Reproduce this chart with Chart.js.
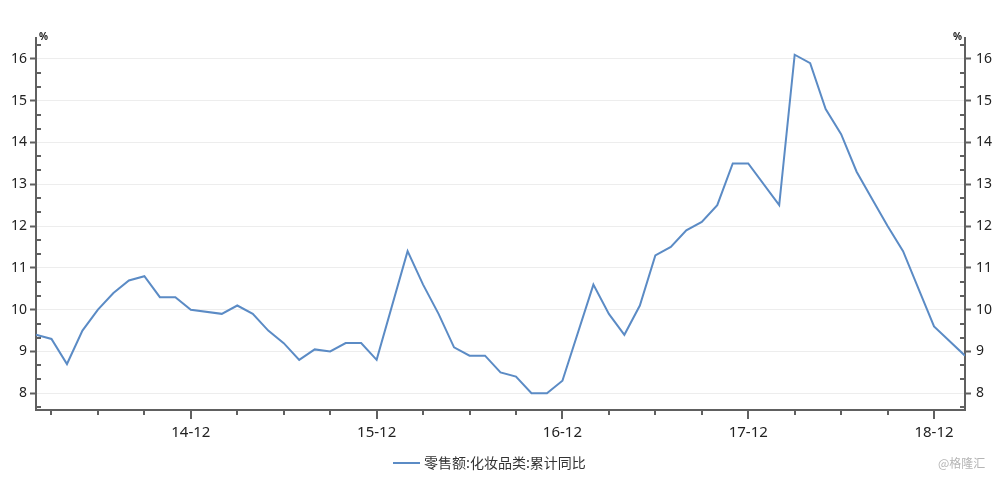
<!DOCTYPE html>
<html>
<head>
<meta charset="utf-8">
<script src="https://cdn.jsdelivr.net/npm/chart.js@4/dist/chart.umd.min.js"></script>
<style>
    html, body { margin: 0; padding: 0; background: #fff; }
    #wrap { position: relative; width: 1000px; height: 480px; }
    #legenda { position: absolute; left: 393px; top: 452px; font: 14px "Noto Sans CJK SC", sans-serif; color: #333; white-space: nowrap; }
    #legenda span.linea { display: inline-block; width: 27px; height: 2px; background: #5b8bc5; vertical-align: middle; margin-right: 4px; position: relative; top: -1px; }
    #firma { position: absolute; left: 938px; top: 454px; font: 12px "Noto Sans CJK SC", sans-serif; color: #b5b5b5; }
</style>
</head>
<body>
<div id="wrap">
    <canvas id="grafico" width="1000" height="480"></canvas>
    <div id="legenda"><span class="linea"></span>零售额:化妆品类:累计同比</div>
    <div id="firma">@格隆汇</div>
</div>
<script>
// mesi (gennaio assente: il dato cumulativo parte da febbraio)
const mesi = [
    '14-02', '14-03', '14-04', '14-05', '14-06', '14-07', '14-08', '14-09', '14-10', '14-11', '14-12',
    '15-02', '15-03', '15-04', '15-05', '15-06', '15-07', '15-08', '15-09', '15-10', '15-11', '15-12',
    '16-02', '16-03', '16-04', '16-05', '16-06', '16-07', '16-08', '16-09', '16-10', '16-11', '16-12',
    '17-02', '17-03', '17-04', '17-05', '17-06', '17-07', '17-08', '17-09', '17-10', '17-11', '17-12',
    '18-02', '18-03', '18-04', '18-05', '18-06', '18-07', '18-08', '18-09', '18-10', '18-11', '18-12',
    '19-02'
];
const valori = [
    9.4, 9.3, 8.7, 9.5, 10.0, 10.4, 10.7, 10.8, 10.3, 10.3, 10.0,
    9.9, 10.1, 9.9, 9.5, 9.2, 8.8, 9.05, 9.0, 9.2, 9.2, 8.8,
    11.4, 10.6, 9.9, 9.1, 8.9, 8.9, 8.5, 8.4, 8.0, 8.0, 8.3,
    10.6, 9.9, 9.4, 10.1, 11.3, 11.5, 11.9, 12.1, 12.5, 13.5, 13.5,
    12.5, 16.1, 15.9, 14.8, 14.2, 13.3, 12.65, 12.0, 11.4, 10.5, 9.6,
    8.9
];
const tickY = [8, 9, 10, 11, 12, 13, 14, 15, 16];
const etichetteX = ['14-12', '15-12', '16-12', '17-12', '18-12'];

const coloreLinea = '#5b8bc5';
const coloreAsse = '#606060';

function indiceMese(m) {
    const p = m.split('-');
    return (parseInt(p[0]) - 14) * 12 + (parseInt(p[1]) - 1);
}

const punti = mesi.map((m, i) => ({ x: indiceMese(m), y: valori[i] }));

// tacche minori verso l'interno, tacche dell'asse x e unita' "%"
const extraAssi = {
    id: 'extraAssi',
    afterDraw(chart) {
        const c = chart.ctx;
        const a = chart.chartArea;
        const sy = chart.scales.y;
        const sx = chart.scales.x;
        c.save();
        c.strokeStyle = coloreAsse;
        c.lineWidth = 2;
        c.beginPath();
        for (let k = 23; k <= 49; k++) {
            if (k % 3 === 0) continue;
            const py = Math.round(sy.getPixelForValue(k / 3));
            c.moveTo(a.left, py); c.lineTo(a.left + 5, py);
            c.moveTo(a.right, py); c.lineTo(a.right - 5, py);
        }
        sx.ticks.forEach(t => {
            const px = Math.round(sx.getPixelForValue(t.value));
            const lung = (t.value % 12 === 11) ? 9 : 5;
            c.moveTo(px, a.bottom); c.lineTo(px, a.bottom + lung);
        });
        c.stroke();
        c.fillStyle = '#222';
        c.font = 'bold 10px "Noto Sans", sans-serif';
        c.textBaseline = 'bottom';
        c.textAlign = 'left';
        c.fillText('%', a.left + 3, a.top + 4);
        c.textAlign = 'right';
        c.fillText('%', a.right - 3, a.top + 4);
        c.restore();
    }
};

const opzioniY = (lato, larghezza) => ({
    type: 'linear',
    position: lato,
    min: 7.6,
    max: 16.5,
    afterBuildTicks: s => { s.ticks = tickY.map(v => ({ value: v })); },
    afterFit: s => { s.width = larghezza; },
    border: { display: true, color: coloreAsse, width: 2 },
    grid: {
        drawOnChartArea: lato === 'left',
        color: '#ededed',
        lineWidth: 1,
        drawTicks: true,
        tickLength: 6,
        tickColor: coloreAsse,
        tickWidth: 2
    },
    ticks: {
        color: '#222',
        padding: lato === 'left' ? 3 : 5,
        font: { size: 14, family: '"Noto Sans", sans-serif' }
    }
});

new Chart(document.getElementById('grafico'), {
    type: 'line',
    data: {
        datasets: [{
            label: '零售额:化妆品类:累计同比',
            data: punti,
            borderColor: coloreLinea,
            backgroundColor: coloreLinea,
            borderWidth: 2,
            pointRadius: 0,
            tension: 0,
            yAxisID: 'y'
        }]
    },
    options: {
        responsive: false,
        animation: false,
        layout: { padding: { top: 38, left: 0, right: 0, bottom: 0 } },
        plugins: {
            legend: { display: false },
            tooltip: { enabled: false }
        },
        scales: {
            x: {
                type: 'linear',
                min: 1,
                max: 61,
                afterBuildTicks: s => {
                    const t = [];
                    for (let v = 2; v <= 61; v += 3) t.push({ value: v });
                    s.ticks = t;
                },
                afterFit: s => { s.height = 70; },
                border: { display: true, color: coloreAsse, width: 2 },
                grid: {
                    drawOnChartArea: false,
                    drawTicks: true,
                    tickLength: 9,
                    tickColor: 'transparent'
                },
                ticks: {
                    autoSkip: false,
                    maxRotation: 0,
                    padding: 5,
                    color: '#222',
                    font: { size: 15, family: '"Noto Sans", sans-serif' },
                    callback: v => etichetteX.find(m => indiceMese(m) === v) || ''
                }
            },
            y: opzioniY('left', 36),
            y2: opzioniY('right', 35)
        }
    },
    plugins: [extraAssi]
});
</script>
</body>
</html>
